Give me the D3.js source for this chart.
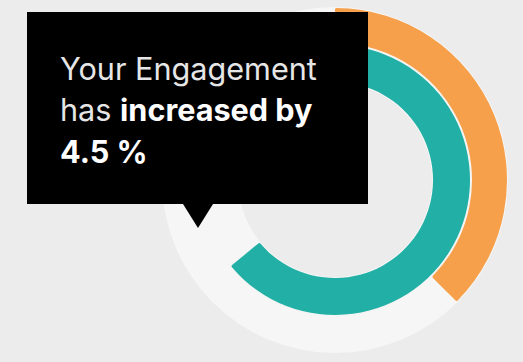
<!DOCTYPE html>
<html>
<head>
<meta charset="utf-8">
<script src="https://cdn.jsdelivr.net/npm/d3@7"></script>
<style>
  html, body { margin: 0; padding: 0; background: #ececec; }
  svg { display: block; }
</style>
</head>
<body>
<div id="chart"></div>
<script>
// ---- data ----
const categories = ["Outer series", "Inner series"];
const values = [37.5, 64];          // percent of full circle
const maxValue = 100;
const message = ["Your Engagement", "has ", "increased by", "4.5 %"];

// ---- layout ----
const W = 523, H = 362;
const cx = 335, cy = 180;
const rings = [
  { inner: 137, outer: 172, color: "#f7a04b" },
  { inner: 98,  outer: 135, color: "#22b0a6" }
];

const svg = d3.select("#chart").append("svg")
  .attr("width", W).attr("height", H);

svg.append("rect").attr("width", W).attr("height", H).attr("fill", "#ececec");

const angle = d3.scaleLinear().domain([0, maxValue]).range([0, 2 * Math.PI]);

const g = svg.append("g").attr("transform", `translate(${cx},${cy})`);

// tracks
g.selectAll("path.track").data(rings).join("path")
  .attr("class", "track")
  .attr("fill", "#f6f6f6")
  .attr("d", d => d3.arc().innerRadius(d.inner - 1).outerRadius(d.outer + 1)
    .startAngle(0).endAngle(2 * Math.PI)());

// value arcs
g.selectAll("path.bar").data(values).join("path")
  .attr("class", "bar")
  .attr("fill", (d, i) => rings[i].color)
  .attr("d", (d, i) => d3.arc()
    .innerRadius(rings[i].inner).outerRadius(rings[i].outer)
    .cornerRadius(1.5)
    .startAngle(angle(0)).endAngle(angle(d))());

// tooltip
const box = { x: 27, y: 12, w: 341, h: 192 };
const tip = { x: 198, y: 228, half: 15 };
svg.append("path")
  .attr("fill", "#000")
  .attr("d", d3.line()([
    [box.x, box.y], [box.x + box.w, box.y], [box.x + box.w, box.y + box.h],
    [tip.x + tip.half, box.y + box.h], [tip.x, tip.y], [tip.x - tip.half, box.y + box.h],
    [box.x, box.y + box.h]
  ]) + "Z");

const font = "Inter, 'Open Sans', sans-serif";
const tx = 60;
const l1 = svg.append("text").attr("x", tx).attr("y", 80)
  .attr("font-family", font).attr("font-size", 30).attr("font-weight", 400)
  .attr("fill", "#e6e6e6").text(message[0]);
// fit the first line width to the reference
const w1 = l1.node().getComputedTextLength();
const fs = 30 * 257 / w1;
l1.attr("font-size", fs);

const l2 = svg.append("text").attr("x", tx).attr("y", 121)
  .attr("font-family", font).attr("font-size", fs);
l2.append("tspan").attr("fill", "#e6e6e6").attr("font-weight", 400).text(message[1]);
l2.append("tspan").attr("fill", "#ffffff").attr("font-weight", 700).text(message[2]);

svg.append("text").attr("x", tx).attr("y", 163)
  .attr("font-family", font).attr("font-size", fs).attr("font-weight", 700)
  .attr("fill", "#ffffff").text(message[3]);
</script>
</body>
</html>
